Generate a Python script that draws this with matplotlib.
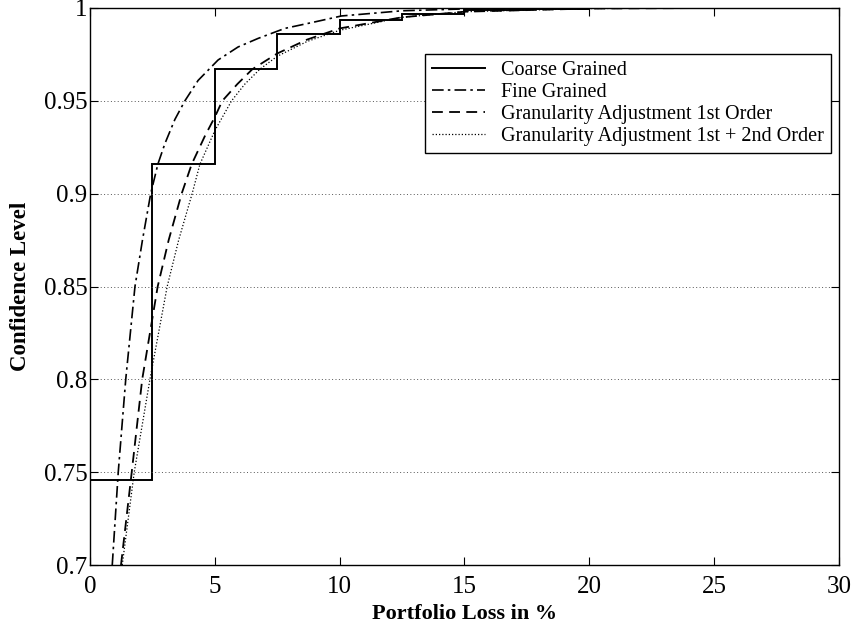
import matplotlib
matplotlib.use("Agg")
import matplotlib.pyplot as plt

plt.rcParams['font.family'] = ['Liberation Serif', 'DejaVu Serif']

# Coarse grained (step function)
coarse_edges = [0, 2.5, 5, 7.5, 10, 12.5, 15, 17.5, 20, 22.5, 25]
coarse_levels = [0.746, 0.9158, 0.967, 0.9858, 0.9935, 0.9965, 0.9988, 0.9996, 0.9999, 1.0]

# Fine grained
fine_x = [0.89, 1.13, 1.43, 1.8, 2.1, 2.43, 2.72, 3.0, 3.4, 3.8, 4.33, 5.13, 5.93,
          6.73, 7.8, 8.87, 10.07, 12.5, 15, 20, 25]
fine_y = [0.70, 0.75, 0.80, 0.85, 0.875, 0.90, 0.916, 0.927, 0.94, 0.950, 0.961, 0.972,
          0.979, 0.9836, 0.989, 0.9921, 0.9957, 0.9985, 0.9995, 0.9999, 1.0]

# Granularity adjustment 1st order
ga1_x = [1.24, 1.67, 2.09, 2.71, 3.15, 3.67, 4.07, 4.6, 5.0, 5.3, 5.9, 6.5, 7.5, 8.7,
         10, 12.5, 15, 20, 25]
ga1_y = [0.70, 0.75, 0.80, 0.85, 0.875, 0.90, 0.9158, 0.931, 0.9413, 0.95, 0.959, 0.967,
         0.9755, 0.983, 0.989, 0.995, 0.998, 0.9997, 1.0]

# Granularity adjustment 1st + 2nd order
ga2_x = [1.29, 1.77, 2.4, 3.09, 3.55, 4.09, 4.4, 5.0, 5.67, 6.2, 6.8, 7.5, 8.7,
         10, 12.5, 15, 20, 25]
ga2_y = [0.70, 0.75, 0.80, 0.85, 0.875, 0.90, 0.9158, 0.934, 0.95, 0.959, 0.967, 0.974,
         0.982, 0.988, 0.995, 0.998, 0.9997, 1.0]

labels = ["Coarse Grained", "Fine Grained", "Granularity Adjustment 1st Order",
          "Granularity Adjustment 1st + 2nd Order"]

x_ticks = [0, 5, 10, 15, 20, 25, 30]
y_ticks = [0.7, 0.75, 0.8, 0.85, 0.9, 0.95, 1]
y_tick_labels = ["0.7", "0.75", "0.8", "0.85", "0.9", "0.95", "1"]

fig = plt.figure(figsize=(8.51, 6.29), dpi=100)
ax = fig.add_axes([0.1058, 0.1017, 0.8800, 0.8856])

ax.stairs(coarse_levels, coarse_edges, baseline=None, color='black', lw=1.4,
          label=labels[0])
ax.plot(fine_x, fine_y, color='black', lw=1.2, linestyle=(0, (7, 2.5, 1.5, 2.5)),
        label=labels[1])
ax.plot(ga1_x, ga1_y, color='black', lw=1.3, linestyle=(0, (6, 3.5)), label=labels[2])
ax.plot(ga2_x, ga2_y, color='black', lw=0.9, linestyle=(0, (1, 1.6)), label=labels[3])

ax.set_xlim(0, 30)
ax.set_ylim(0.7, 1.0)
ax.set_xticks(x_ticks)
ax.set_yticks(y_ticks)
ax.set_yticklabels(y_tick_labels)
ax.tick_params(direction='in', length=6, width=0.8, top=True, right=True,
               labelsize=18)
ax.tick_params(axis='y', pad=2)
ax.tick_params(axis='x', pad=8)
ax.yaxis.grid(True, linestyle=(0, (1, 2.5)), color='#555555', lw=0.7)
for s in ax.spines.values():
    s.set_linewidth(1.0)

ax.set_xlabel("Portfolio Loss in %", fontsize=16, fontweight='bold', labelpad=4)
ax.set_ylabel("Confidence Level", fontsize=16.5, fontweight='bold', labelpad=9)

leg = ax.legend(loc='upper left', bbox_to_anchor=(0.434, 0.936), fontsize=14.5,
                frameon=True, fancybox=False, edgecolor='black', framealpha=1,
                handlelength=2.6, handletextpad=0.8, borderpad=0.35, labelspacing=0.15)
leg.get_frame().set_linewidth(1.0)

fig.savefig("out.png", dpi=100)
